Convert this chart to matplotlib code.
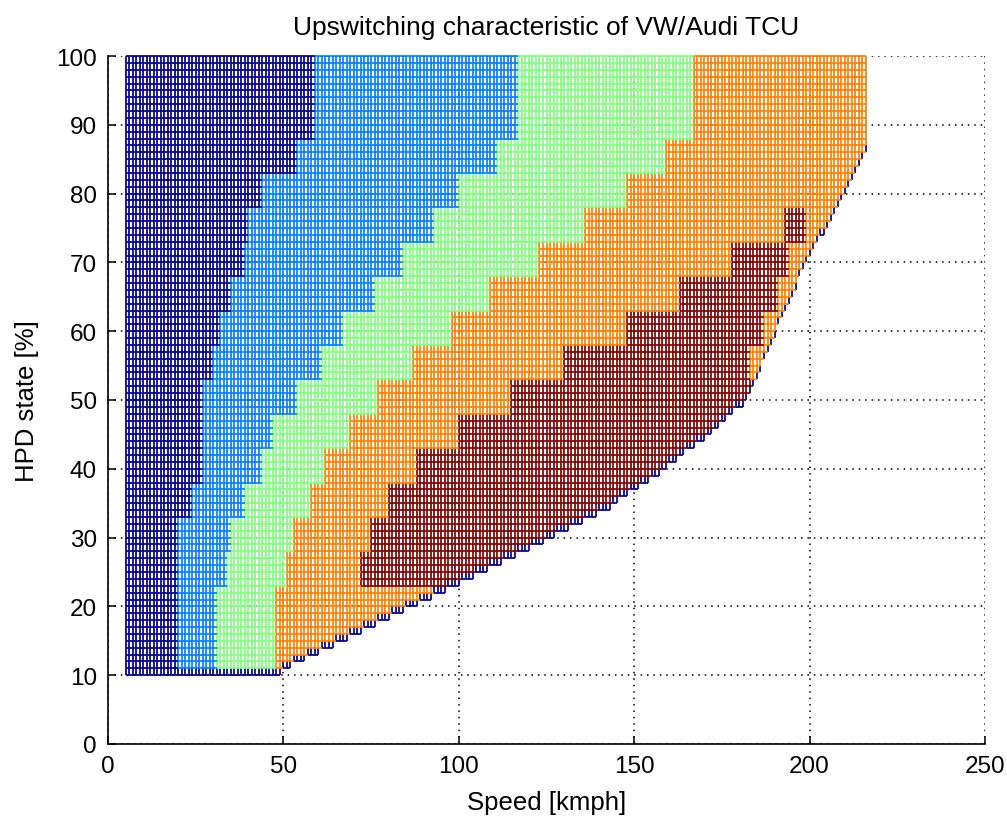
import numpy as np
import matplotlib
matplotlib.use('Agg')
import matplotlib.pyplot as plt
from matplotlib.collections import LineCollection
from matplotlib import colors

plt.rcParams['font.family'] = ['Liberation Sans', 'DejaVu Sans']

# mesh grid of the map
speed = np.arange(5, 217)      # kmph
hpd = np.arange(10, 101)       # %

# HPD bands (5 % steps) and the upshift speeds [kmph]
bands = [10, 15, 20, 25, 30, 35, 40, 45, 50, 55, 60, 65, 70, 75, 80, 85, 90, 95, 100]
up12 = [19.1, 19.1, 19.1, 19.1, 19.1, 23.4, 26.7, 26.7, 26.7, 30.0, 31.4, 34.8, 38.1, 39.5, 43.3, 53.3, 58.5, 58.5, 58.5]
up23 = [31.0, 31.0, 31.0, 33.8, 34.8, 38.6, 43.3, 46.9, 53.8, 61.0, 67.0, 76.0, 83.8, 92.7, 99.8, 110.8, 116.3, 116.3, 116.3]
up34 = [47.6, 47.6, 47.6, 50.5, 52.8, 57.1, 61.9, 69.0, 76.6, 86.8, 97.7, 108.9, 122.3, 136.0, 147.9, 158.8, 166.8, 166.8, 166.8]
up45 = [np.inf, np.inf, np.inf, 71.8, 74.2, 79.9, 87.5, 99.4, 114.6, 129.3, 148.0, 162.7, 177.3, 192.4,
        np.inf, np.inf, np.inf, np.inf, np.inf]
# above this speed the 5th gear area gives way to 4th again (thin strip along the edge)
top5 = [np.inf, np.inf, np.inf, np.inf, np.inf, np.inf, np.inf, np.inf, np.inf, 182.5, 186.5, 190.5, 193.0, 198.5,
        np.inf, np.inf, np.inf, np.inf, np.inf]

# reachable speed limit vs HPD
edge_hpd = [10, 11, 15, 20, 25, 30, 35, 40, 45, 50, 55, 60, 65, 70, 75, 80, 85, 86.5, 100]
edge_speed = [44.5, 49.0, 64.2, 84.5, 104.0, 124.0, 143.0, 157.0, 170.0, 181.0, 186.0, 190.0, 194.5, 198.5,
              204.0, 209.0, 214.5, 216.3, 216.3]

# gear field
bi = np.floor((hpd + 2.5) / 5).astype(int) - 2
V, H = np.meshgrid(speed, hpd)
U12 = np.array(up12)[bi][:, None]
U23 = np.array(up23)[bi][:, None]
U34 = np.array(up34)[bi][:, None]
U45 = np.array(up45)[bi][:, None]
T5 = np.array(top5)[bi][:, None]
gear = 1 + (V >= U12) + (V >= U23) + (V >= U34) + ((V >= U45) & (V <= T5))

vmax = np.interp(hpd, edge_hpd, edge_speed)
vnext = np.append(vmax[1:], vmax[-1])
valid = (V <= vmax[:, None]) & (H >= 11)
zero = ~valid & (V <= vnext[:, None]) & (H < 100)
val = np.where(valid, gear.astype(float), np.where(zero, 0.0, np.nan))

# mesh edges, coloured by their first vertex
ok = ~np.isnan(val)
jh, ih = np.nonzero(ok[:, :-1] & ok[:, 1:])
jv, iv = np.nonzero(ok[:-1, :] & ok[1:, :])
seg_h = np.stack([np.column_stack([speed[ih], hpd[jh]]), np.column_stack([speed[ih + 1], hpd[jh]])], axis=1)
seg_v = np.stack([np.column_stack([speed[iv], hpd[jv]]), np.column_stack([speed[iv], hpd[jv + 1]])], axis=1)
segs = np.concatenate([seg_v, seg_h])
cval = np.concatenate([val[jv, iv], val[jh, ih]])

# matlab-like jet, darkest blue slightly lighter than mpl's
cmap = colors.LinearSegmentedColormap.from_list(
    'jet_m', [(0, 0, 0.5625), (0, 0.5, 1), (0.5, 1, 0.5), (1, 0.5, 0), (0.5, 0, 0)])
norm = colors.Normalize(1, 5, clip=True)

fig = plt.figure(figsize=(10.07, 8.2), dpi=100)
ax = fig.add_axes([108 / 1007, 75 / 820, 877 / 1007, 688 / 820])

lc = LineCollection(segs, colors=cmap(norm(cval)), linewidths=1.25, antialiaseds=True, zorder=3)
lc.set_clip_on(False)
ax.add_collection(lc)

ax.set_xlim(0, 250)
ax.set_ylim(0, 100)
ax.set_xticks(np.arange(0, 251, 50))
ax.set_yticks(np.arange(0, 101, 10))
ax.set_axisbelow(True)
ax.grid(True, color='k', linestyle=(0, (1, 3.2)), linewidth=1.1)
ax.spines['top'].set_visible(False)
ax.spines['right'].set_visible(False)
ax.spines['left'].set_linewidth(1.2)
ax.spines['bottom'].set_linewidth(1.2)
ax.tick_params(direction='in', length=6, width=1.1, labelsize=17.5, pad=8)

ax.set_xlabel('Speed [kmph]', fontsize=18.5, labelpad=9)
ax.set_ylabel('HPD state [%]', fontsize=18.5, labelpad=12)
ax.set_title('Upswitching characteristic of VW/Audi TCU', fontsize=19, pad=16)

fig.savefig('out.png', dpi=100)
